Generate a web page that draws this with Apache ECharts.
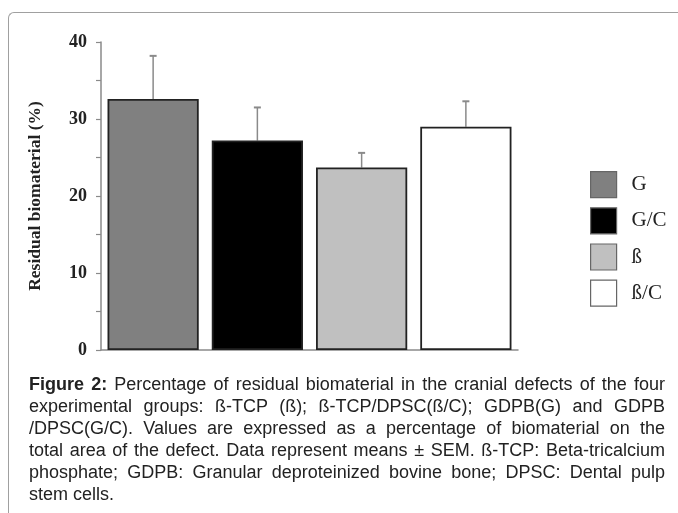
<!DOCTYPE html>
<html>
<head>
<meta charset="utf-8">
<script src="https://cdn.jsdelivr.net/npm/echarts@6/dist/echarts.min.js"></script>
<style>
  html, body { margin: 0; padding: 0; background: #fff; }
  .wrap { position: relative; width: 678px; height: 513px; overflow: hidden; }
  .frame {
    position: absolute; left: 8px; top: 12px; width: 700px; height: 540px;
    border-top: 1.5px solid #a0a0a0; border-left: 1.5px solid #a0a0a0;
    border-top-left-radius: 6px;
  }
  #main { position: absolute; left: 0; top: 0; width: 678px; height: 513px; }
  .caption {
    position: absolute; left: 29px; top: 373px; width: 636px;
    font-family: "Liberation Sans", Arial, sans-serif; font-size: 18px;
    line-height: 22px; color: #222;
  }
  .caption div { text-align: justify; text-align-last: justify; white-space: nowrap; }
  .caption div.last { text-align-last: left; }
</style>
</head>
<body>
<div class="wrap">
  <div class="frame"></div>
  <div id="main"></div>
  <div class="caption">
    <div><b>Figure 2:</b> Percentage of residual biomaterial in the cranial defects of the four</div>
    <div>experimental groups: ß-TCP (ß); ß-TCP/DPSC(ß/C); GDPB(G) and GDPB</div>
    <div>/DPSC(G/C). Values are expressed as a percentage of biomaterial on the</div>
    <div>total area of the defect. Data represent means ± SEM. ß-TCP: Beta-tricalcium</div>
    <div>phosphate; GDPB: Granular deproteinized bovine bone; DPSC: Dental pulp</div>
    <div class="last">stem cells.</div>
  </div>
</div>
<script>
// groups, means and upper end of error bar (mean + SEM)
var groups = ["G", "G/C", "ß", "ß/C"];
var means = [32.6, 27.2, 23.7, 29.0];
var errTop = [38.2, 31.5, 25.6, 32.3];
var colors = ["#808080", "#000000", "#c0c0c0", "#ffffff"];
var yTicks = [0, 10, 20, 30, 40];

var serif = '"Liberation Serif", "Times New Roman", serif';
var myChart = echarts.init(document.getElementById("main"));

var series = [];
for (var i = 0; i < groups.length; i++) {
  var d = [];
  for (var j = 0; j < groups.length; j++) {
    d.push(i === j ? means[i] : "-");
  }
  series.push({
    name: groups[i],
    type: "bar",
    stack: "all",
    barCategoryGap: "12.5%",
    data: d,
    itemStyle: { color: colors[i], borderColor: "#222", borderWidth: 1.8 },
  });
}

var errData = [];
for (var k = 0; k < groups.length; k++) {
  errData.push([k, means[k], errTop[k]]);
}
series.push({
  type: "custom",
  z: 1,
  data: errData,
  renderItem: function (params, api) {
    var base = api.coord([api.value(0), api.value(1)]);
    var top = api.coord([api.value(0), api.value(2)]);
    return {
      type: "group",
      children: [
        { type: "line", shape: { x1: base[0], y1: base[1], x2: top[0], y2: top[1] }, style: { stroke: "#8a8a8a", lineWidth: 1.5 } },
        { type: "line", shape: { x1: top[0] - 3.5, y1: top[1], x2: top[0] + 3.5, y2: top[1] }, style: { stroke: "#8a8a8a", lineWidth: 2 } },
      ],
    };
  },
});

var option = {
  animation: false,
  grid: { left: 101, top: 42, width: 417, height: 308 },
  legend: {
    orient: "vertical",
    left: 590,
    top: 171,
    padding: 0,
    itemWidth: 26,
    itemHeight: 26,
    itemGap: 9,
    icon: "rect",
    data: groups,
    itemStyle: { borderColor: "#666", borderWidth: 1.2 },
    textStyle: { fontFamily: serif, fontSize: 21, color: "#222", padding: [0, 0, 0, 10] },
  },
  xAxis: {
    type: "category",
    data: groups,
    axisLine: { lineStyle: { color: "#8a8a8a", width: 1.5 } },
    axisTick: { alignWithLabel: true, length: 3, lineStyle: { color: "#8a8a8a" } },
    axisLabel: { show: false },
  },
  yAxis: {
    type: "value",
    min: 0,
    max: 40,
    interval: 5,
    name: "Residual biomaterial (%)",
    nameLocation: "middle",
    nameGap: 57,
    nameTextStyle: { fontFamily: serif, fontSize: 17.5, fontWeight: "bold", color: "#222" },
    axisLine: { show: true, lineStyle: { color: "#8a8a8a", width: 1.5 } },
    axisTick: { show: true, length: 5, lineStyle: { color: "#8a8a8a", width: 1.2 } },
    splitLine: { show: false },
    axisLabel: {
      margin: 14,
      fontFamily: serif,
      fontSize: 18,
      fontWeight: "bold",
      color: "#222",
      formatter: function (v) {
        return yTicks.indexOf(v) >= 0 ? String(v) : "";
      },
    },
  },
  series: series,
};
myChart.setOption(option);
</script>
</body>
</html>
